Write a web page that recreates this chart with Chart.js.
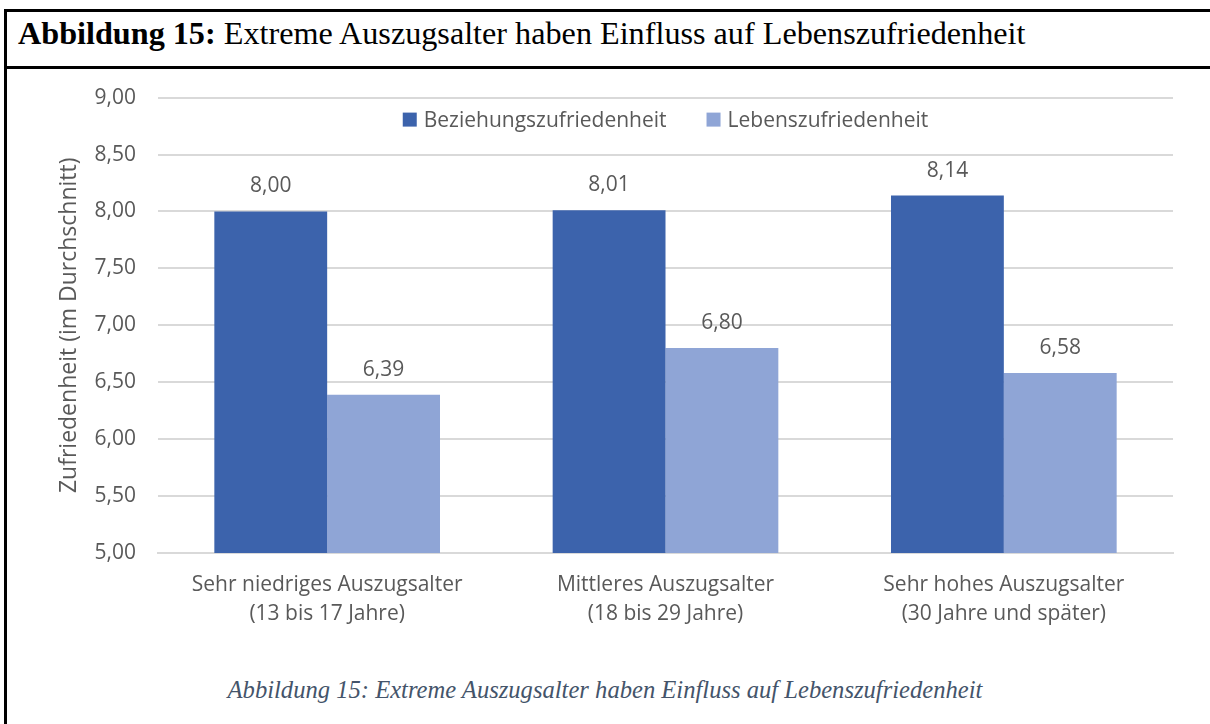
<!DOCTYPE html>
<html lang="de">
<head>
<meta charset="utf-8">
<script src="https://cdn.jsdelivr.net/npm/chart.js@4.4.0/dist/chart.umd.min.js"></script>
<style>
  html, body { margin: 0; padding: 0; background: #fff; }
  body { width: 1210px; height: 724px; position: relative; overflow: hidden; }
  .frame-left { position: absolute; left: 4px; top: 9px; width: 3px; height: 715px; background: #000; }
  .frame-top { position: absolute; left: 4px; top: 9px; width: 1206px; height: 3px; background: #000; }
  .frame-sep { position: absolute; left: 4px; top: 66px; width: 1206px; height: 3px; background: #000; }
  .header {
    position: absolute; left: 18px; top: 15px;
    font-family: "Liberation Serif", "Times New Roman", serif;
    font-size: 32.2px; line-height: 36px; color: #000; white-space: nowrap;
  }
  .caption {
    position: absolute; left: 0; width: 1210px; top: 676px; text-align: center;
    font-family: "Liberation Serif", "Times New Roman", serif;
    font-style: italic; font-size: 24.6px; line-height: 28px; color: #44546A;
  }
  #chartWrap { position: absolute; left: 0; top: 63px; width: 1210px; height: 587px; }
</style>
</head>
<body>
<div class="frame-left"></div>
<div class="frame-top"></div>
<div class="frame-sep"></div>
<div class="header"><b>Abbildung 15:</b> Extreme Auszugsalter haben Einfluss auf Lebenszufriedenheit</div>
<div id="chartWrap"><canvas id="barChart"></canvas></div>
<div class="caption">Abbildung 15: Extreme Auszugsalter haben Einfluss auf Lebenszufriedenheit</div>

<script>
const categories = [
  ["Sehr niedriges Auszugsalter", "(13 bis 17 Jahre)"],
  ["Mittleres Auszugsalter", "(18 bis 29 Jahre)"],
  ["Sehr hohes Auszugsalter", "(30 Jahre und später)"],
];
const beziehung = [8.00, 8.01, 8.14];
const leben = [6.39, 6.80, 6.58];
const seriesNames = ["Beziehungszufriedenheit", "Lebenszufriedenheit"];

const textColor = "#595959";
const fontFamily = "'Open Sans', 'Noto Sans', sans-serif";

function fmt(v) {
  return Number(v).toFixed(2).replace(".", ",");
}

// value labels above each bar
const valueLabels = {
  id: "valueLabels",
  afterDatasetsDraw(chart) {
    const ctx = chart.ctx;
    ctx.save();
    ctx.font = "21px " + fontFamily;
    ctx.fillStyle = textColor;
    ctx.textAlign = "center";
    ctx.textBaseline = "alphabetic";
    chart.data.datasets.forEach((ds, i) => {
      chart.getDatasetMeta(i).data.forEach((bar, j) => {
        ctx.fillText(fmt(ds.data[j]), bar.x, bar.y - 19);
      });
    });
    ctx.restore();
  },
};

// legend drawn inside the plot area, like the Excel original
const innerLegend = {
  id: "innerLegend",
  afterDraw(chart) {
    const ctx = chart.ctx;
    const area = chart.chartArea;
    const box = 14, gapText = 7, gapItem = 40;
    ctx.save();
    ctx.font = "21px " + fontFamily;
    const items = chart.data.datasets.map(ds => ({
      text: ds.label, color: ds.backgroundColor, w: ctx.measureText(ds.label).width,
    }));
    let total = 0;
    items.forEach((it, i) => {
      total += box + gapText + it.w + (i < items.length - 1 ? gapItem : 0);
    });
    let x = (area.left + area.right) / 2 - total / 2;
    const y = area.top + 22;
    ctx.textBaseline = "middle";
    ctx.textAlign = "left";
    items.forEach(it => {
      ctx.fillStyle = it.color;
      ctx.fillRect(x, y - box / 2, box, box);
      ctx.fillStyle = textColor;
      ctx.fillText(it.text, x + box + gapText, y + 1);
      x += box + gapText + it.w + gapItem;
    });
    ctx.restore();
  },
};

new Chart("barChart", {
  type: "bar",
  data: {
    labels: categories,
    datasets: [
      {
        label: seriesNames[0],
        backgroundColor: "#3C63AC",
        data: beziehung,
      },
      {
        label: seriesNames[1],
        backgroundColor: "#8FA5D6",
        data: leben,
      },
    ],
  },
  options: {
    responsive: true,
    maintainAspectRatio: false,
    animation: false,
    layout: { padding: { left: 56, right: 37, top: 15, bottom: 0 } },
    datasets: {
      bar: { categoryPercentage: 0.667, barPercentage: 1.0 },
    },
    plugins: {
      legend: { display: false },
      tooltip: { enabled: false },
    },
    scales: {
      x: {
        grid: { display: false, drawTicks: false },
        border: { display: true, color: "#D9D9D9", width: 2 },
        ticks: {
          color: textColor,
          font: { family: fontFamily, size: 21, lineHeight: 1.38 },
          padding: 18,
          maxRotation: 0,
        },
        afterFit(scale) { scale.height = 97; },
      },
      y: {
        min: 5,
        max: 9,
        grid: { color: "#D9D9D9", lineWidth: 2, drawTicks: false },
        border: { display: false },
        ticks: {
          stepSize: 0.5,
          color: textColor,
          font: { family: fontFamily, size: 21 },
          padding: 22,
          callback: v => fmt(v),
        },
        title: {
          display: true,
          text: "Zufriedenheit (im Durchschnitt)",
          color: textColor,
          font: { family: fontFamily, size: 23 },
          padding: { top: 0, bottom: 0 },
        },
        afterFit(scale) { scale.width = 102; },
      },
    },
  },
  plugins: [valueLabels, innerLegend],
});
</script>
</body>
</html>
